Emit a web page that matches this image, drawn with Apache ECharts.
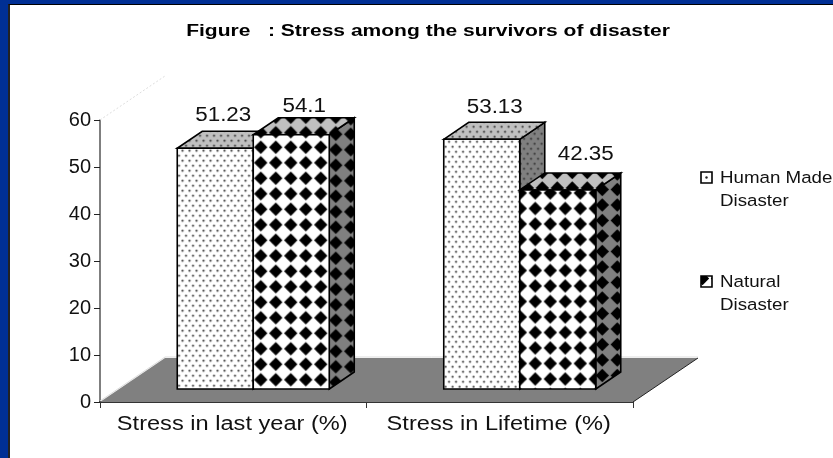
<!DOCTYPE html>
<html>
<head>
<meta charset="utf-8">
<style>
  html, body { margin: 0; padding: 0; background: #002f94; overflow: hidden; }
  #sheet { position: absolute; left: 8px; top: 4px; width: 825px; height: 454px; background: #fff;
           border-left: 2px solid #222; border-top: 1px solid #000; box-sizing: border-box; }
  #chart { position: absolute; left: 0; top: 0; width: 833px; height: 458px; }
</style>
<script src="https://cdn.jsdelivr.net/npm/echarts@6/dist/echarts.min.js"></script>
</head>
<body>
<div id="sheet"></div>
<div id="chart"></div>
<script>
const titleText = 'Figure   : Stress among the survivors of disaster';
const categories = ['Stress in last year (%)', 'Stress in Lifetime (%)'];
const humanMade = [51.23, 53.13];
const natural = [54.1, 42.35];
const seriesNames = ['Human Made\nDisaster', 'Natural\nDisaster'];
const yTicks = [0, 60, 10];

const FONT = '"Liberation Sans", Arial, sans-serif';
// fake 3d: how far the back of a bar / the floor sits from its front
const BAR_W = 76, DEPTH_X = 25, DEPTH_Y = 17, FLOOR_X = 65, FLOOR_Y = 44, BAR_LIFT = 13;
// where the number sits, from the front-face centre and back edge of each bar
const labelShift = [[[8, -16], [13, -11]], [[13, -15], [28, -18]]];
// pattern start on the front face, [cat][series]
const frontPhase = [[[0, 5], [0, 5]], [[0, 5], [-7, -4.5]]];

function dotTile(bg) {
  const c = document.createElement('canvas');
  c.width = 7; c.height = 10;
  const g = c.getContext('2d');
  g.fillStyle = bg; g.fillRect(0, 0, 7, 10);
  g.fillStyle = '#333';
  [[1.75, 2.5], [5.25, 7.5]].forEach(p => {
    g.beginPath(); g.arc(p[0], p[1], 1.1, 0, Math.PI * 2); g.fill();
  });
  return c;
}
function diamondTile(bg) {
  const c = document.createElement('canvas');
  c.width = 15; c.height = 31;
  const g = c.getContext('2d');
  g.fillStyle = bg; g.fillRect(0, 0, 15, 31);
  g.fillStyle = '#000';
  [7.5, 23].forEach(y => {
    g.beginPath();
    g.moveTo(7.5, y - 6.8); g.lineTo(14.2, y); g.lineTo(7.5, y + 6.8); g.lineTo(0.8, y);
    g.closePath(); g.fill();
  });
  return c;
}
const tiles = [
  { front: dotTile('#fff'), top: dotTile('#c0c0c0'), side: dotTile('#808080') },
  { front: diamondTile('#fff'), top: diamondTile('#c0c0c0'), side: diamondTile('#808080') }
];
function fill(img, x, y) {
  return { image: img, repeat: 'repeat', x: x, y: y };
}

function barItem(seriesIdx) {
  return function (params, api) {
    const cat = api.value(0), val = api.value(1);
    const base = api.coord([cat, 0]);
    const top = api.coord([cat, val]);
    const x0 = base[0] + (seriesIdx === 0 ? -56 : 20);
    const x1 = x0 + BAR_W;
    const yb = base[1] - BAR_LIFT, yt = top[1] - BAR_LIFT;
    const t = tiles[seriesIdx];
    const edge = { stroke: '#000', lineWidth: 1.6, lineJoin: 'miter' };
    const shift = labelShift[cat][seriesIdx];
    const phase = frontPhase[cat][seriesIdx];
    return {
      type: 'group',
      children: [
        { type: 'polygon', shape: { points: [[x1, yb], [x1 + DEPTH_X, yb - DEPTH_Y], [x1 + DEPTH_X, yt - DEPTH_Y], [x1, yt]] },
          style: Object.assign({ fill: fill(t.side, x1 - 1, yt - 8) }, edge) },
        { type: 'polygon', shape: { points: [[x0, yt], [x0 + DEPTH_X, yt - DEPTH_Y], [x1 + DEPTH_X, yt - DEPTH_Y], [x1, yt]] },
          style: Object.assign({ fill: fill(t.top, x0, yt - DEPTH_Y - 8) }, edge) },
        { type: 'rect', shape: { x: x0, y: yt, width: BAR_W, height: yb - yt },
          style: Object.assign({ fill: fill(t.front, x0 + phase[0], yt + phase[1]) }, edge) },
        { type: 'text', z2: 10, x: (x0 + x1) / 2 + shift[0], y: yt - DEPTH_Y + shift[1], scaleX: 1.12,
          style: { text: String(val), fill: '#111', font: '20px ' + FONT, align: 'center', verticalAlign: 'middle' } }
      ]
    };
  };
}

function floorItem(params, api) {
  const cs = params.coordSys;
  const xl = cs.x, xr = cs.x + cs.width, yf = cs.y + cs.height;
  return {
    type: 'group',
    children: [
      { type: 'polyline', shape: { points: [[xl, cs.y], [xl + FLOOR_X, cs.y - FLOOR_Y]] },
        style: { fill: 'none', stroke: '#ddd', lineWidth: 1, lineDash: [2, 2] } },
      { type: 'polyline', shape: { points: [[xl, yf - 1], [xl + FLOOR_X, yf - FLOOR_Y - 1], [xr + FLOOR_X, yf - FLOOR_Y - 1]] },
        style: { fill: 'none', stroke: '#ddd', lineWidth: 1 } },
      { type: 'polygon', shape: { points: [[xl, yf], [xl + FLOOR_X, yf - FLOOR_Y], [xr + FLOOR_X, yf - FLOOR_Y], [xr, yf]] },
        style: { fill: '#808080' } },
      { type: 'line', shape: { x1: xr, y1: yf, x2: xr + FLOOR_X, y2: yf - FLOOR_Y },
        style: { stroke: '#222', lineWidth: 1 } }
    ]
  };
}

// category names are stretched wide in the original, axisLabel can't do that
function catLabelItem(params, api) {
  const cat = api.value(0);
  const p = api.coord([cat, 0]);
  return {
    type: 'text', x: p[0] - 1, y: p[1] + 22, scaleX: 1.18,
    style: { text: categories[cat], fill: '#111', font: '20px ' + FONT, align: 'center', verticalAlign: 'middle' }
  };
}

function sideBits() {
  const out = [{
    type: 'text', x: 428, y: 31, scaleX: 1.26,
    style: { text: titleText, fill: '#000', font: 'bold 16.7px ' + FONT, align: 'center', verticalAlign: 'middle' }
  }];
  const tops = [172, 276];
  seriesNames.forEach((name, i) => {
    out.push({
      type: 'rect', x: 701, y: tops[i], shape: { width: 11, height: 11 },
      style: { fill: i === 0 ? '#fff' : fill(tiles[1].front, 699, tops[i] - 2), stroke: '#000', lineWidth: 1.6 }
    });
    if (i === 0) {
      out.push({ type: 'circle', shape: { cx: 706.5, cy: tops[i] + 5.5, r: 1.2 }, style: { fill: '#222' } });
    }
    out.push({
      type: 'text', x: 720, y: tops[i] - 5, scaleX: 1.15,
      style: { text: name, fill: '#111', font: '16.3px ' + FONT, lineHeight: 23, align: 'left', verticalAlign: 'top' }
    });
  });
  return out;
}

const chart = echarts.init(document.getElementById('chart'), null, { renderer: 'canvas' });
chart.setOption({
  backgroundColor: 'transparent',
  animation: false,
  grid: { left: 100, right: 200, top: 120, bottom: 56 },
  xAxis: {
    type: 'category',
    data: categories,
    axisLine: { lineStyle: { color: '#333', width: 2 } },
    axisTick: { show: true, length: 6, lineStyle: { color: '#333' } },
    axisLabel: { show: false }
  },
  yAxis: {
    type: 'value',
    min: yTicks[0], max: yTicks[1], interval: yTicks[2],
    axisLine: { show: true, lineStyle: { color: '#555', width: 1.5 } },
    axisTick: { show: true, length: 6, lineStyle: { color: '#222' } },
    splitLine: { show: false },
    axisLabel: { color: '#111', fontFamily: FONT, fontSize: 20, margin: 9 }
  },
  graphic: sideBits(),
  series: [
    { type: 'custom', silent: true, data: [[0, 0]], renderItem: floorItem, z: 1, encode: { x: 0, y: 1 } },
    { type: 'custom', silent: true, data: categories.map((c, i) => [i, 0]), renderItem: catLabelItem, z: 2, encode: { x: 0, y: 1 } },
    { type: 'custom', name: seriesNames[0], z: 3, encode: { x: 0, y: 1 },
      data: humanMade.map((v, i) => [i, v]), renderItem: barItem(0) },
    { type: 'custom', name: seriesNames[1], z: 4, encode: { x: 0, y: 1 },
      data: natural.map((v, i) => [i, v]), renderItem: barItem(1) }
  ]
});
</script>
</body>
</html>
